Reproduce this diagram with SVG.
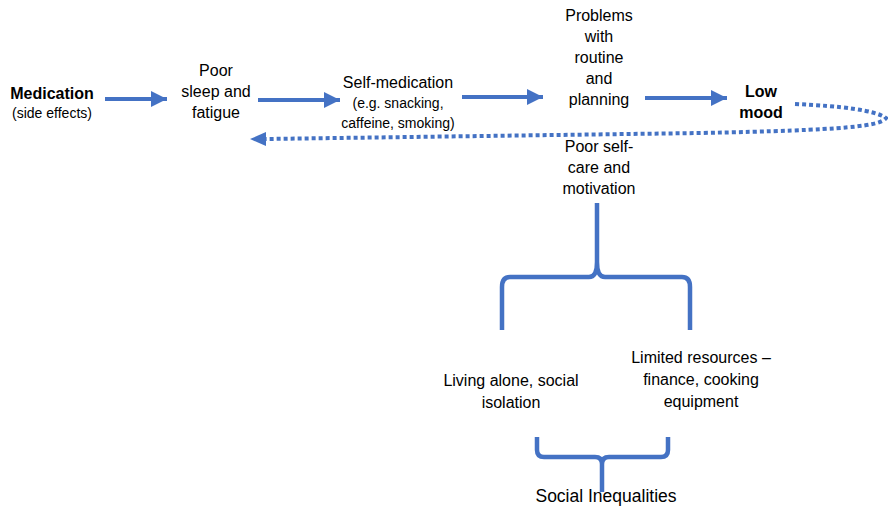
<svg xmlns="http://www.w3.org/2000/svg" width="888" height="511" viewBox="0 0 888 511">
<defs>
<style>
text{font-family:"Liberation Sans",Arial,sans-serif;fill:#000;text-anchor:middle;font-size:16px}
.s{font-size:14px}
.b{font-weight:bold}
.ln{fill:none;stroke:#4472C4;stroke-width:4}
.dot{fill:none;stroke:#4472C4;stroke-width:4;stroke-dasharray:4 3}
.br{fill:none;stroke:#4472C4;stroke-width:4.5;stroke-linejoin:round}
</style>
<marker id="ah" viewBox="0 0 10 10" refX="10" refY="5" markerWidth="4" markerHeight="4.2" orient="auto" markerUnits="strokeWidth">
<path d="M0,0 L10,5 L0,10 Z" fill="#4472C4"/>
</marker>
</defs>
<rect width="888" height="511" fill="#fff"/>
<g id="connectors">
<line class="ln" x1="105" y1="99" x2="167" y2="99" marker-end="url(#ah)"/>
<line class="ln" x1="258" y1="100" x2="340" y2="100" marker-end="url(#ah)"/>
<line class="ln" x1="462" y1="97" x2="543" y2="97" marker-end="url(#ah)"/>
<line class="ln" x1="645" y1="98" x2="727" y2="98" marker-end="url(#ah)"/>
<path class="dot" d="M795,104 C840,106 875,110 886,118 C880,126 850,130 700,133 L265,139"/>
<path d="M250,139 L266,132 L266,146 Z" fill="#4472C4"/>
<path id="brace1" class="br" d="M597,203 L597,262 Q597,277 589,277 L510,277 Q502,277 502,287 L502,330 M597,262 Q597,277 605,277 L682,277 Q690,277 690,287 L690,330"/>
<path id="brace2" class="br" d="M537,437 L537,450 Q537,457 544,457 L595,457 Q602,457 602,464 L602,492 M602,464 Q602,457 609,457 L661,457 Q668,457 668,450 L668,437"/>
</g>
<g id="medication">
<text class="b" x="52" y="99">Medication</text>
<text class="s" x="52" y="118">(side effects)</text>
</g>
<g id="sleep">
<text x="216" y="76">Poor</text>
<text x="216" y="97">sleep and</text>
<text x="216" y="118">fatigue</text>
</g>
<g id="selfmed">
<text x="398" y="88">Self-medication</text>
<text class="s" x="398" y="108">(e.g. snacking,</text>
<text class="s" x="398" y="128">caffeine, smoking)</text>
</g>
<g id="problems">
<text x="599" y="21">Problems</text>
<text x="599" y="42">with</text>
<text x="599" y="63">routine</text>
<text x="599" y="84">and</text>
<text x="599" y="105">planning</text>
</g>
<g id="lowmood">
<text class="b" x="761" y="97">Low</text>
<text class="b" x="761" y="118">mood</text>
</g>
<g id="selfcare">
<text x="599" y="152">Poor self-</text>
<text x="599" y="173">care and</text>
<text x="599" y="194">motivation</text>
</g>
<g id="living">
<text x="511" y="386">Living alone, social</text>
<text x="511" y="408">isolation</text>
</g>
<g id="resources">
<text x="701" y="363">Limited resources –</text>
<text x="701" y="385">finance, cooking</text>
<text x="701" y="407">equipment</text>
</g>
<g id="inequalities">
<text x="606" y="502" style="font-size:17.5px">Social Inequalities</text>
</g>
</svg>
